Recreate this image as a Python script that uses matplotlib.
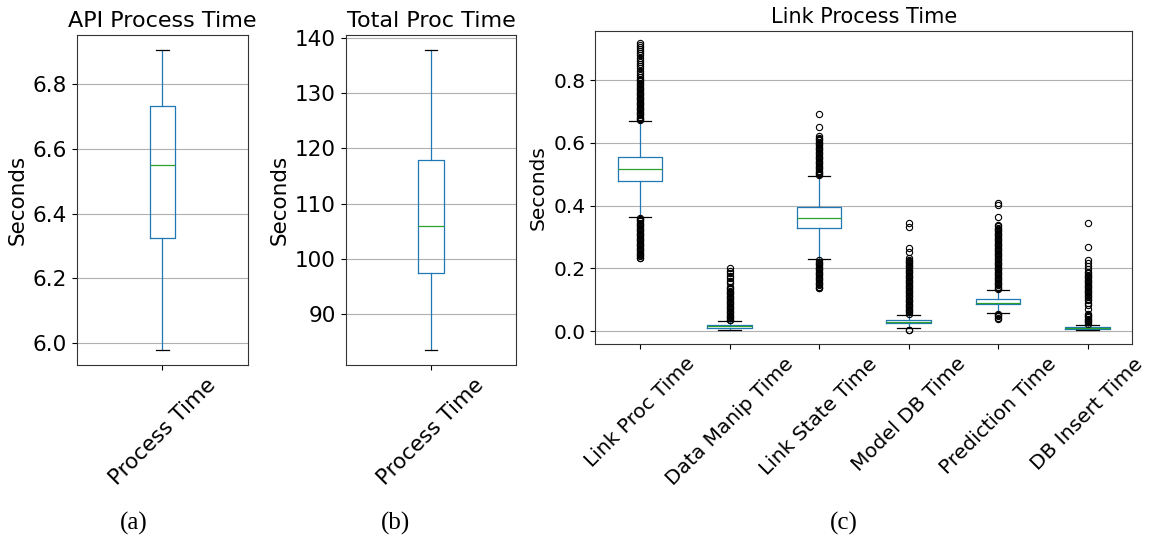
import matplotlib
matplotlib.use("Agg")
import matplotlib.pyplot as plt

# (a) API process time, (b) total processing time -- single box each
api_stats = dict(whislo=5.978, q1=6.325, med=6.550, q3=6.734, whishi=6.906)
tot_stats = dict(whislo=83.4, q1=97.4, med=105.9, q3=117.9, whishi=137.8)

# (c) link process breakdown
link_names = ["Link Proc Time", "Data Manip Time", "Link State Time",
              "Model DB Time", "Prediction Time", "DB Insert Time"]
link_whislo = [0.365, 0.005, 0.230, 0.009, 0.058, 0.003]
link_q1 = [0.478, 0.011, 0.328, 0.025, 0.086, 0.007]
link_med = [0.518, 0.015, 0.362, 0.029, 0.091, 0.009]
link_q3 = [0.554, 0.018, 0.395, 0.037, 0.101, 0.013]
link_whishi = [0.671, 0.032, 0.494, 0.053, 0.130, 0.021]

# outliers (dense runs listed point by point)
fl_linkproc = [0.918, 0.913, 0.907, 0.900, 0.893, 0.886, 0.879, 0.872, 0.866, 0.859,
               0.852, 0.845, 0.838, 0.831, 0.824, 0.817, 0.810, 0.804,
               0.800, 0.796, 0.792, 0.788, 0.784, 0.780, 0.776, 0.772, 0.768, 0.764,
               0.760, 0.756, 0.752, 0.748, 0.744, 0.740, 0.736, 0.732, 0.728, 0.724,
               0.720, 0.716, 0.712, 0.708, 0.704, 0.700, 0.696, 0.692, 0.688, 0.684,
               0.680, 0.676, 0.673,
               0.362, 0.358, 0.354, 0.350, 0.346, 0.342, 0.338, 0.334, 0.330, 0.326,
               0.322, 0.318, 0.314, 0.310, 0.306, 0.302, 0.298, 0.294, 0.290, 0.286,
               0.282, 0.278, 0.274, 0.270, 0.266, 0.262, 0.258, 0.254, 0.250, 0.246,
               0.242, 0.238, 0.234, 0.232]
fl_datamanip = [0.200, 0.193, 0.186, 0.176, 0.168, 0.160, 0.153,
                0.141, 0.137, 0.133, 0.129, 0.125, 0.121, 0.117, 0.113, 0.109, 0.105,
                0.101, 0.097, 0.093, 0.089, 0.085, 0.081, 0.077, 0.073, 0.069, 0.065,
                0.061, 0.057, 0.053, 0.049, 0.045, 0.041, 0.037, 0.034]
fl_linkstate = [0.692, 0.650, 0.622, 0.617, 0.612, 0.608, 0.604, 0.600, 0.596, 0.592,
                0.588, 0.584, 0.580, 0.576, 0.572, 0.568, 0.564, 0.560, 0.556, 0.552,
                0.548, 0.544, 0.540, 0.536, 0.532, 0.528, 0.524, 0.520, 0.516, 0.512,
                0.508, 0.504, 0.500, 0.497,
                0.226, 0.222, 0.218, 0.214, 0.210, 0.206, 0.202, 0.198, 0.194, 0.190,
                0.186, 0.182, 0.178, 0.174, 0.170, 0.166, 0.162, 0.158, 0.154, 0.150,
                0.146, 0.142, 0.138, 0.136]
fl_modeldb = [0.346, 0.333, 0.264, 0.253,
              0.232, 0.228, 0.224, 0.220, 0.216, 0.212, 0.208, 0.204, 0.200, 0.196,
              0.192, 0.188, 0.184, 0.180, 0.176, 0.172, 0.168, 0.164, 0.160, 0.156,
              0.152, 0.148, 0.144, 0.140, 0.136, 0.132, 0.128, 0.124, 0.120, 0.116,
              0.112, 0.108, 0.104, 0.100, 0.096, 0.092, 0.088, 0.084, 0.080, 0.076,
              0.072, 0.068, 0.064, 0.060, 0.056,
              0.005, 0.002]
fl_prediction = [0.407, 0.402, 0.363,
                 0.338, 0.334, 0.330, 0.326, 0.322, 0.318, 0.314, 0.310, 0.306, 0.302,
                 0.298, 0.294, 0.290, 0.286, 0.282, 0.278, 0.274, 0.270, 0.266, 0.262,
                 0.258, 0.254, 0.250, 0.246, 0.242, 0.238, 0.234, 0.230, 0.226, 0.222,
                 0.218, 0.214, 0.210, 0.206, 0.202, 0.198, 0.194, 0.190, 0.186, 0.182,
                 0.178, 0.174, 0.170, 0.166, 0.162, 0.158, 0.154, 0.150, 0.146, 0.142,
                 0.138, 0.134,
                 0.055, 0.051, 0.047, 0.043, 0.040]
fl_dbinsert = [0.346, 0.267, 0.227, 0.218, 0.208, 0.198, 0.189,
               0.184, 0.180, 0.176, 0.172, 0.168, 0.164, 0.160, 0.156, 0.152, 0.148,
               0.144, 0.140, 0.136, 0.132, 0.128, 0.124, 0.120, 0.116, 0.112, 0.108,
               0.104, 0.100, 0.090, 0.082, 0.072,
               0.056, 0.052, 0.048, 0.044, 0.040, 0.036, 0.032, 0.028, 0.024]
link_fliers = [fl_linkproc, fl_datamanip, fl_linkstate, fl_modeldb, fl_prediction, fl_dbinsert]

blue = "#1f77b4"
green = "#2ca02c"
style = dict(boxprops=dict(color=blue, linewidth=0.9),
             whiskerprops=dict(color=blue, linewidth=0.9),
             capprops=dict(color="black", linewidth=0.9),
             medianprops=dict(color=green, linewidth=0.9),
             flierprops=dict(marker="o", markerfacecolor="none", markeredgecolor="black",
                             markersize=4.5, markeredgewidth=0.8))


def dress(ax, tick_fs, title, title_fs):
    ax.set_title(title, fontsize=title_fs)
    ax.set_ylabel("Seconds", fontsize=tick_fs)
    ax.yaxis.grid(True, color="#b0b0b0", linewidth=0.8)
    ax.set_axisbelow(True)
    ax.tick_params(labelsize=tick_fs)
    for s in ax.spines.values():
        s.set_color("#333333")
    for lab in ax.get_xticklabels():
        lab.set_rotation(45)
        lab.set_ha("center")


fig = plt.figure(figsize=(11.52, 5.41), dpi=100)

ax1 = fig.add_axes([0.0668, 0.3253, 0.1484, 0.61])
ax1.bxp([dict(api_stats, label="Process Time", fliers=[])], **style)
ax1.set_ylim(5.932, 6.952)
ax1.set_yticks([6.0, 6.2, 6.4, 6.6, 6.8])
dress(ax1, 15.5, "API Process Time", 16)

ax2 = fig.add_axes([0.3001, 0.3253, 0.1481, 0.61])
ax2.bxp([dict(tot_stats, label="Process Time", fliers=[])], **style)
ax2.set_ylim(80.7, 140.6)
ax2.set_yticks([90, 100, 110, 120, 130, 140])
dress(ax2, 15.5, "Total Proc Time", 16)

ax3 = fig.add_axes([0.5168, 0.3636, 0.4661, 0.5785])
stats = []
for i in range(len(link_names)):
    stats.append(dict(label=link_names[i], whislo=link_whislo[i], q1=link_q1[i],
                      med=link_med[i], q3=link_q3[i], whishi=link_whishi[i],
                      fliers=link_fliers[i]))
ax3.bxp(stats, **style)
ax3.set_ylim(-0.042, 0.956)
ax3.set_yticks([0.0, 0.2, 0.4, 0.6, 0.8])
dress(ax3, 14.5, "Link Process Time", 15)

for x, t in [(134, "(a)"), (395, "(b)"), (844, "(c)")]:
    fig.text(x / 1152, 1 - 523 / 541, t, ha="center", va="center",
             family="Liberation Serif", fontsize=18)

fig.savefig("out.png", dpi=100)
